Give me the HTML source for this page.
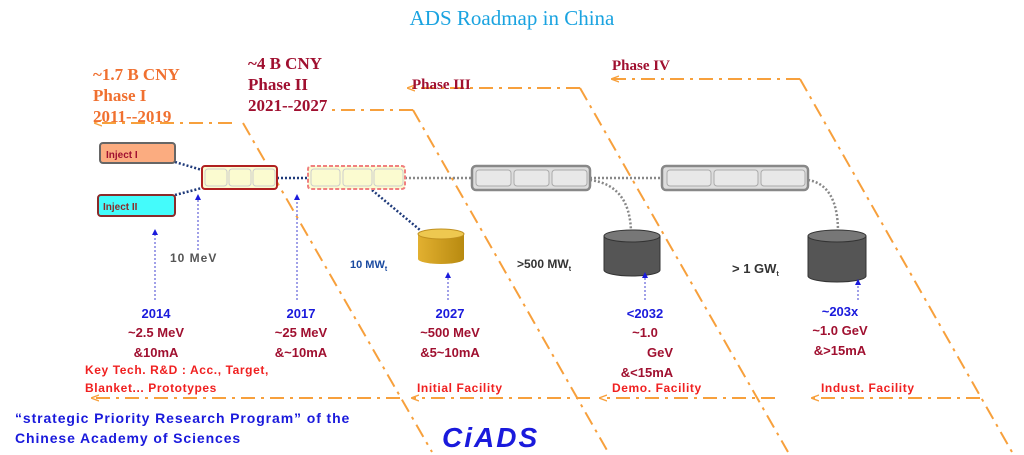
<!DOCTYPE html>
<html><head><meta charset="utf-8"><style>
body{margin:0;background:#fff;width:1024px;height:455px;overflow:hidden}
svg{display:block}
.s{font-family:"Liberation Sans",sans-serif;font-weight:bold}
.r{font-family:"Liberation Serif",serif;font-weight:bold}
</style></head><body>
<svg width="1024" height="455" viewBox="0 0 1024 455" xmlns="http://www.w3.org/2000/svg">
<defs>
<marker id="ao" markerWidth="8" markerHeight="8" refX="7" refY="4" orient="auto" markerUnits="userSpaceOnUse"><path d="M0,1 L8,4 L0,7" fill="none" stroke="#f7a03c" stroke-width="1.3"/></marker>
<marker id="ab" markerWidth="6" markerHeight="6" refX="3" refY="3" orient="auto"><path d="M0,0 L6,3 L0,6z" fill="#1a1adc"/></marker>
<linearGradient id="gold" x1="0" x2="1"><stop offset="0" stop-color="#e2b030"/><stop offset="1" stop-color="#b88a10"/></linearGradient>
</defs>
<text x="512" y="25" text-anchor="middle" font-family="Liberation Serif,serif" font-size="21" fill="#1aa3e0">ADS  Roadmap in China</text>

<g fill="none" stroke="#f7a03c" stroke-width="2" stroke-dasharray="14,6,3,6">
<path d="M232,123 H95" marker-end="url(#ao)"/><path d="M243,123 L432,452"/>
<path d="M413,110 H330"/><path d="M413,110 L608,452"/>
<path d="M580,88 H408" marker-end="url(#ao)"/><path d="M580,88 L788,452"/>
<path d="M800,79 H612" marker-end="url(#ao)"/><path d="M800,79 L1012,452"/>
<path d="M400,398 H92" marker-end="url(#ao)"/>
<path d="M590,398 H412" marker-end="url(#ao)"/>
<path d="M775,398 H600" marker-end="url(#ao)"/>
<path d="M980,398 H812" marker-end="url(#ao)"/>
</g>

<text class="r" font-size="17" fill="#f07030" x="93" y="80">~1.7 B CNY</text>
<text class="r" font-size="17" fill="#f07030" x="93" y="101">Phase I</text>
<text class="r" font-size="17" fill="#f07030" x="93" y="122">2011--2019</text>
<text class="r" font-size="17" fill="#a01030" x="248" y="69">~4 B CNY</text>
<text class="r" font-size="17" fill="#a01030" x="248" y="90">Phase II</text>
<text class="r" font-size="17" fill="#a01030" x="248" y="111">2021--2027</text>
<text class="r" font-size="15" fill="#a01030" x="412" y="89">Phase III</text>
<text class="r" font-size="15" fill="#a01030" x="612" y="70">Phase IV</text>

<g fill="none" stroke-dasharray="2,2" stroke-width="2.5">
<path d="M175,162 L202,170" stroke="#1f3a7a"/><path d="M175,195 L202,188" stroke="#1f3a7a"/>
<path d="M277,178 H308" stroke="#1f3a7a"/>
<path d="M372,190 L420,230" stroke="#1f3a7a"/>
<path d="M405,178 H472" stroke="#888"/><path d="M590,178 H662" stroke="#888"/>
<path d="M590,180 Q630,185 631,232" stroke="#888"/>
<path d="M808,180 Q838,185 838,232" stroke="#888"/>
</g>

<rect x="100" y="143" width="75" height="20" rx="3" fill="#fbac80" stroke="#666" stroke-width="2"/>
<text class="s" x="106" y="158" font-size="10" fill="#a01030">Inject I</text>
<rect x="98" y="195" width="77" height="21" rx="3" fill="#44fbfb" stroke="#8b2a2a" stroke-width="2"/>
<text class="s" x="103" y="210" font-size="10" fill="#8b2a2a">Inject II</text>

<g>
<rect x="202" y="166" width="75" height="23" rx="3" fill="#fbfbd0" stroke="#b02020" stroke-width="2"/>
<rect x="205" y="169" width="22" height="17" rx="3" fill="#fbfbd0" stroke="#ccc"/>
<rect x="229" y="169" width="22" height="17" rx="3" fill="#fbfbd0" stroke="#ccc"/>
<rect x="253" y="169" width="22" height="17" rx="3" fill="#fbfbd0" stroke="#ccc"/>
<rect x="308" y="166" width="97" height="23" rx="3" fill="#fbfbd0" stroke="#f08080" stroke-width="2" stroke-dasharray="4,2"/>
<rect x="311" y="169" width="29" height="17" rx="3" fill="#fbfbd0" stroke="#ccc"/>
<rect x="343" y="169" width="29" height="17" rx="3" fill="#fbfbd0" stroke="#ccc"/>
<rect x="374" y="169" width="29" height="17" rx="3" fill="#fbfbd0" stroke="#ccc"/>
<rect x="472" y="166" width="118" height="24" rx="4" fill="#ddd" stroke="#888" stroke-width="2.5"/>
<rect x="476" y="170" width="35" height="16" rx="3" fill="#e8e8e8" stroke="#aaa"/>
<rect x="514" y="170" width="35" height="16" rx="3" fill="#e8e8e8" stroke="#aaa"/>
<rect x="552" y="170" width="35" height="16" rx="3" fill="#e8e8e8" stroke="#aaa"/>
<rect x="662" y="166" width="146" height="24" rx="4" fill="#ddd" stroke="#888" stroke-width="2.5"/>
<rect x="667" y="170" width="44" height="16" rx="3" fill="#e8e8e8" stroke="#aaa"/>
<rect x="714" y="170" width="44" height="16" rx="3" fill="#e8e8e8" stroke="#aaa"/>
<rect x="761" y="170" width="44" height="16" rx="3" fill="#e8e8e8" stroke="#aaa"/>
</g>

<path d="M418,234 V259 A23,5 0 0 0 464,259 V234" fill="url(#gold)"/>
<ellipse cx="441" cy="234" rx="23" ry="5" fill="#eec850" stroke="#c09020"/>
<path d="M604,236 V270 A28,6 0 0 0 660,270 V236" fill="#555" stroke="#333"/>
<ellipse cx="632" cy="236" rx="28" ry="6" fill="#777" stroke="#333"/>
<path d="M808,236 V276 A29,6 0 0 0 866,276 V236" fill="#555" stroke="#333"/>
<ellipse cx="837" cy="236" rx="29" ry="6" fill="#777" stroke="#333"/>

<text class="s" x="170" y="262" font-size="12" fill="#555" letter-spacing="1">10 MeV</text>
<text class="s" x="350" y="268" font-size="11" fill="#1a4aa0">10 MW<tspan font-size="7" dy="3">t</tspan></text>
<text class="s" x="517" y="268" font-size="12" fill="#333">&gt;500 MW<tspan font-size="7" dy="3">t</tspan></text>
<text class="s" x="732" y="273" font-size="13" fill="#333">&gt; 1 GW<tspan font-size="7" dy="3">t</tspan></text>

<g stroke="#4040d0" stroke-width="1" stroke-dasharray="2,2">
<path d="M155,300 V232" marker-end="url(#ab)"/>
<path d="M198,250 V197" marker-end="url(#ab)"/>
<path d="M297,300 V197" marker-end="url(#ab)"/>
<path d="M448,300 V275" marker-end="url(#ab)"/>
<path d="M645,300 V275" marker-end="url(#ab)"/>
<path d="M858,300 V282" marker-end="url(#ab)"/>
</g>

<g class="s" font-size="13" text-anchor="middle">
<text x="156" y="318" fill="#1a1adc">2014</text>
<text x="156" y="337" fill="#a01030">~2.5 MeV</text>
<text x="156" y="357" fill="#a01030">&amp;10mA</text>
<text x="301" y="318" fill="#1a1adc">2017</text>
<text x="301" y="337" fill="#a01030">~25 MeV</text>
<text x="301" y="357" fill="#a01030">&amp;~10mA</text>
<text x="450" y="318" fill="#1a1adc">2027</text>
<text x="450" y="337" fill="#a01030">~500 MeV</text>
<text x="450" y="357" fill="#a01030">&amp;5~10mA</text>
<text x="645" y="318" fill="#1a1adc">&lt;2032</text>
<text x="645" y="337" fill="#a01030">~1.0</text>
<text x="660" y="357" fill="#a01030">GeV</text>
<text x="647" y="377" fill="#a01030">&amp;&lt;15mA</text>
<text x="840" y="316" fill="#1a1adc">~203x</text>
<text x="840" y="335" fill="#a01030">~1.0 GeV</text>
<text x="840" y="355" fill="#a01030">&amp;&gt;15mA</text>
</g>
<g class="s" font-size="12" fill="#f02020" letter-spacing="0.6">
<text x="85" y="374">Key Tech. R&amp;D : Acc., Target,</text>
<text x="85" y="392">Blanket... Prototypes</text>
<text x="417" y="392">Initial Facility</text>
<text x="612" y="392">Demo. Facility</text>
<text x="821" y="392">Indust. Facility</text>
</g>
<text class="s" x="15" y="423" font-size="14" fill="#1a1adc" letter-spacing="0.9">“strategic Priority Research Program” of the</text>
<text class="s" x="15" y="443" font-size="14" fill="#1a1adc" letter-spacing="0.9">Chinese Academy of Sciences</text>
<text class="s" x="442" y="447" font-size="28" font-style="italic" fill="#1a1adc" letter-spacing="2">CiADS</text>
</svg>
</body></html>
